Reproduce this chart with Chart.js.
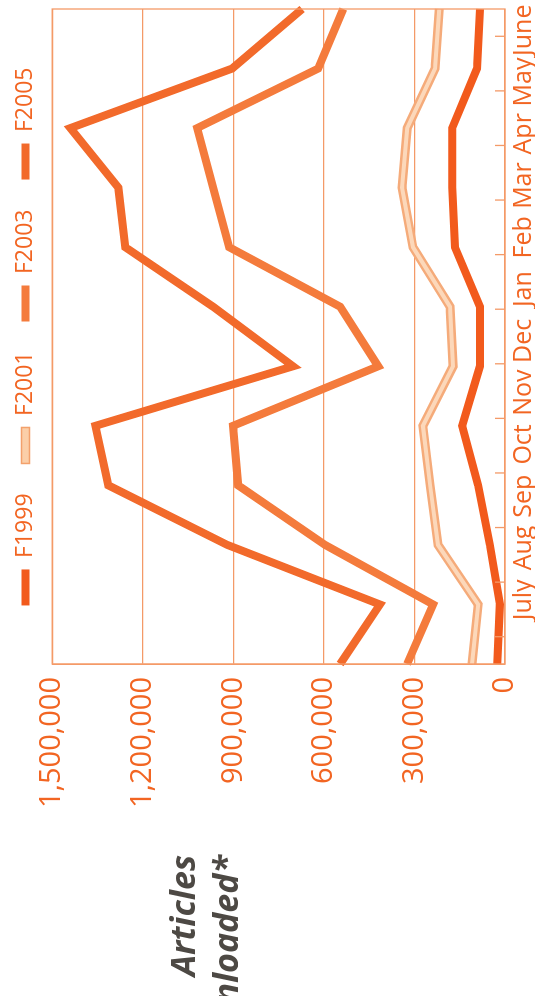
<!DOCTYPE html>
<html><head><meta charset="utf-8">
<script src="https://cdn.jsdelivr.net/npm/chart.js@4.4.1/dist/chart.umd.min.js"></script>
<style>
html,body{margin:0;padding:0;background:#fff;overflow:hidden;width:539px;height:996px;}
#rot{position:absolute;left:0;top:0;width:996px;height:539px;transform-origin:0 0;transform:translate(0,996px) rotate(-90deg);}
#wrap{position:absolute;left:0;top:0;width:996px;height:539px;}
#ttl{position:absolute;right:855px;top:161px;text-align:right;white-space:nowrap;font:italic 700 34px/43px 'Open Sans',sans-serif;color:#4d4944;}
</style></head><body>
<div id="rot"><div id="wrap"><canvas id="c" width="996" height="539"></canvas></div><div id="ttl">Articles<br>Downloaded*</div></div>
<script>
const months = ['July','Aug','Sep','Oct','Nov','Dec','Jan','Feb','Mar','Apr','May','June'];
const f1999 = [26000, 17000, 50000, 89000, 142000, 83000, 83000, 166000, 175000, 175000, 93000, 83000];
const f2001 = [109000, 89000, 222000, 248000, 272000, 172000, 182000, 305000, 341000, 324000, 232000, 218000];
const f2003 = [324000, 238000, 596000, 884000, 901000, 420000, 546000, 914000, 967000, 1020000, 619000, 536000];
const f2005 = [546000, 414000, 920000, 1314000, 1357000, 702000, 967000, 1258000, 1281000, 1440000, 904000, 672000];
const yTicks = [0, 300000, 600000, 900000, 1200000, 1500000];
const monthTickIdx = months.map((m, i) => i);

const orange = '#f26522';
const gridCol = '#f49a68';

const framePlugin = {
  id: 'frame',
  afterDatasetsDraw(chart) {
    const {ctx, chartArea: a} = chart;
    const s = chart.scales.x2;
    ctx.save();
    ctx.strokeStyle = gridCol;
    ctx.lineWidth = 1.3;
    ctx.strokeRect(a.left, a.top, a.right - a.left, a.bottom - a.top);
    ctx.beginPath();
    s.ticks.forEach((t, i) => {
      const px = s.getPixelForTick(i);
      ctx.moveTo(px, a.bottom);
      ctx.lineTo(px, a.bottom - 10);
    });
    ctx.stroke();
    ctx.restore();
  }
};

const common = {pointRadius: 0, pointHoverRadius: 0, tension: 0, borderJoinStyle: 'miter', fill: false, xAxisID: 'x', yAxisID: 'y'};

new Chart(document.getElementById('c'), {
  type: 'line',
  data: {
    labels: months,
    datasets: [
      Object.assign({label: 'F1999', data: f1999, borderColor: '#f25a1c', borderWidth: 8}, common),
      Object.assign({label: 'F2001', data: f2001, borderColor: '#fcd8ba', borderWidth: 4, hideInLegend: true}, common),
      Object.assign({label: 'F2001', data: f2001, borderColor: '#f5ab7a', borderWidth: 9, swatchFill: '#fbcfa9', swatchStroke: '#f3a16c'}, common),
      Object.assign({label: 'F2003', data: f2003, borderColor: '#f47b3c', borderWidth: 8}, common),
      Object.assign({label: 'F2005', data: f2005, borderColor: '#f26a2b', borderWidth: 8}, common)
    ]
  },
  options: {
    responsive: false,
    animation: false,
    layout: {padding: {left: 182, right: 9, top: -16, bottom: 4}},
    plugins: {
      tooltip: {enabled: false},
      subtitle: {display: true, text: ' ', weight: 500, font: {size: 1}, padding: {top: 0, bottom: 4}},
      legend: {
        position: 'top',
        fullSize: false,
        labels: {
          color: orange,
          font: {family: 'Open Sans', size: 23},
          boxWidth: 36,
          boxHeight: 8,
          padding: 30,
          generateLabels(chart) {
            const items = Chart.defaults.plugins.legend.labels.generateLabels(chart);
            return items.filter(it => !chart.data.datasets[it.datasetIndex].hideInLegend).map(it => {
              const ds = chart.data.datasets[it.datasetIndex];
              it.fillStyle = ds.swatchFill || ds.borderColor;
              it.strokeStyle = ds.swatchStroke || ds.borderColor;
              it.lineWidth = ds.swatchStroke ? 1.5 : 0;
              it.fontColor = orange;
              return it;
            });
          }
        }
      }
    },
    scales: {
      x: {type: 'category', display: false, offset: false},
      x2: {type: 'category', labels: months, offset: true, display: false},
      x3: {
        type: 'linear', position: 'bottom', min: -1.24, max: 11.41,
        afterBuildTicks(scale) { scale.ticks = monthTickIdx.map(v => ({value: v})); },
        afterFit(scale) { scale.height = 30; },
        grid: {display: false, drawOnChartArea: false},
        border: {display: false},
        ticks: {color: orange, font: {family: 'Open Sans', size: 25}, autoSkip: false, maxRotation: 0, minRotation: 0, padding: -4,
          callback: v => months[Math.round(v)]}
      },
      y: {
        min: 0, max: 1500000,
        afterBuildTicks(scale) { scale.ticks = yTicks.map(v => ({value: v})); },
        afterFit(scale) { scale.width = 150; },
        ticks: {color: orange, font: {family: 'Open Sans', size: 29}, padding: 13, callback: v => Number(v).toLocaleString('en-US')},
        grid: {color: gridCol, lineWidth: 1.3, drawTicks: false},
        border: {display: true, color: gridCol, width: 1.3}
      }
    }
  },
  plugins: [framePlugin]
});
</script>
</body></html>
